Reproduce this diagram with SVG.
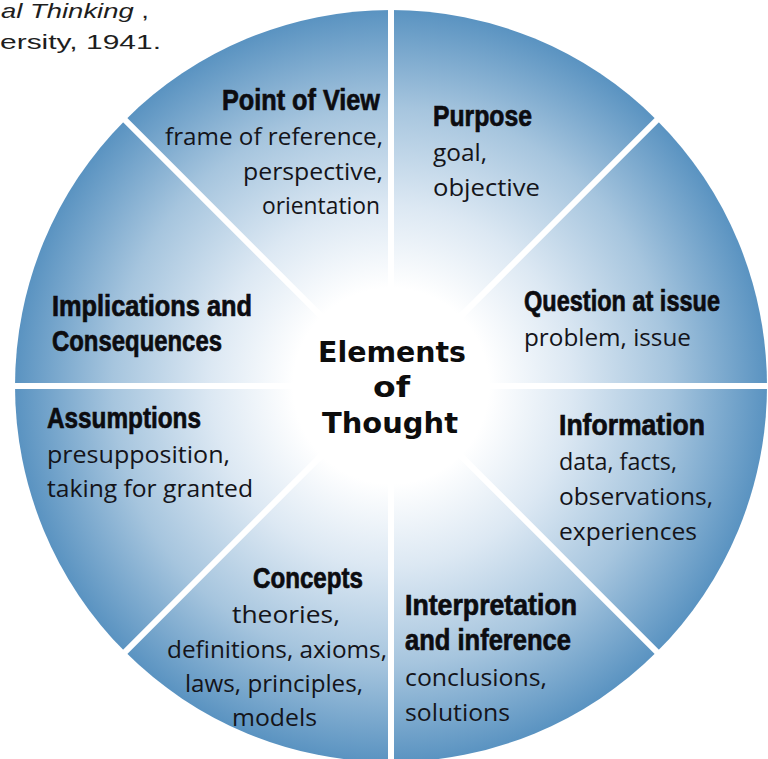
<svg xmlns="http://www.w3.org/2000/svg" width="768" height="759" viewBox="0 0 768 759">
<defs>
<radialGradient id="bg" gradientUnits="userSpaceOnUse" cx="391" cy="386" r="376">
<stop offset="0" stop-color="#ffffff"/>
<stop offset="0.26" stop-color="#ffffff"/>
<stop offset="0.48" stop-color="#dce8f3"/>
<stop offset="0.74" stop-color="#a6c5de"/>
<stop offset="1" stop-color="#5a93c1"/>
</radialGradient>
<style>
.sec { fill: url(#bg); }
.t { font-family: "Liberation Sans", "Open Sans", sans-serif; font-weight: 700; font-size: 30px; fill: #0c0c10; stroke: #0c0c10; stroke-width: 0.7px; }
.s { font-family: "Open Sans", "Liberation Sans", sans-serif; font-size: 24.5px; fill: #14141a; }
.c { font-family: "DejaVu Sans", "Liberation Sans", sans-serif; font-weight: 700; font-size: 28px; fill: #0d0d0d; }
.cap { font-family: "Liberation Sans", "Open Sans", sans-serif; font-size: 21px; fill: #1e1e1e; }
.sep { stroke: #ffffff; stroke-width: 6; fill: none; }
</style>
</defs>
<rect width="768" height="759" fill="#ffffff"/>
<g id="caption">
<text class="cap" x="1" y="18" textLength="148" lengthAdjust="spacingAndGlyphs"><tspan font-style="italic">al Thinking</tspan> ,</text>
<text class="cap" x="0" y="49" textLength="161" lengthAdjust="spacingAndGlyphs">ersity, 1941.</text>
</g>
<g id="point-of-view">
<path class="sec" d="M391,386 L125.13,120.13 A376,376 0 0 1 391,10 Z"/>
<text class="t" transform="matrix(0.8 0 0 1 222 110)" x="0" y="0" textLength="197.5" lengthAdjust="spacingAndGlyphs">Point of View</text>
<text class="s" x="165" y="145" textLength="218" lengthAdjust="spacingAndGlyphs">frame of reference,</text>
<text class="s" x="243" y="180" textLength="140" lengthAdjust="spacingAndGlyphs">perspective,</text>
<text class="s" x="262" y="214" textLength="118" lengthAdjust="spacingAndGlyphs">orientation</text>
</g>
<g id="purpose">
<path class="sec" d="M391,386 L391,10 A376,376 0 0 1 656.87,120.13 Z"/>
<text class="t" transform="matrix(0.8 0 0 1 433 126)" x="0" y="0" textLength="123.75" lengthAdjust="spacingAndGlyphs">Purpose</text>
<text class="s" x="433" y="161" textLength="54" lengthAdjust="spacingAndGlyphs">goal,</text>
<text class="s" x="433" y="196" textLength="107" lengthAdjust="spacingAndGlyphs">objective</text>
</g>
<g id="question-at-issue">
<path class="sec" d="M391,386 L656.87,120.13 A376,376 0 0 1 767,386 Z"/>
<text class="t" transform="matrix(0.8 0 0 1 524 311)" x="0" y="0" textLength="245" lengthAdjust="spacingAndGlyphs">Question at issue</text>
<text class="s" x="524" y="346" textLength="167" lengthAdjust="spacingAndGlyphs">problem, issue</text>
</g>
<g id="information">
<path class="sec" d="M391,386 L767,386 A376,376 0 0 1 656.87,651.87 Z"/>
<text class="t" transform="matrix(0.8 0 0 1 559 435)" x="0" y="0" textLength="182.5" lengthAdjust="spacingAndGlyphs">Information</text>
<text class="s" x="559" y="470" textLength="118" lengthAdjust="spacingAndGlyphs">data, facts,</text>
<text class="s" x="559" y="505" textLength="154" lengthAdjust="spacingAndGlyphs">observations,</text>
<text class="s" x="559" y="540" textLength="138" lengthAdjust="spacingAndGlyphs">experiences</text>
</g>
<g id="interpretation-and-inference">
<path class="sec" d="M391,386 L656.87,651.87 A376,376 0 0 1 391,762 Z"/>
<text class="t" transform="matrix(0.8 0 0 1 405 615)" x="0" y="0" textLength="215" lengthAdjust="spacingAndGlyphs">Interpretation</text>
<text class="t" transform="matrix(0.8 0 0 1 405 650)" x="0" y="0" textLength="207.5" lengthAdjust="spacingAndGlyphs">and inference</text>
<text class="s" x="405" y="686" textLength="142" lengthAdjust="spacingAndGlyphs">conclusions,</text>
<text class="s" x="405" y="721" textLength="105" lengthAdjust="spacingAndGlyphs">solutions</text>
</g>
<g id="concepts">
<path class="sec" d="M391,386 L391,762 A376,376 0 0 1 125.13,651.87 Z"/>
<text class="t" transform="matrix(0.8 0 0 1 253 588)" x="0" y="0" textLength="137.5" lengthAdjust="spacingAndGlyphs">Concepts</text>
<text class="s" x="232" y="623" textLength="108" lengthAdjust="spacingAndGlyphs">theories,</text>
<text class="s" x="167" y="658" textLength="220" lengthAdjust="spacingAndGlyphs">definitions, axioms,</text>
<text class="s" x="185" y="692" textLength="178" lengthAdjust="spacingAndGlyphs">laws, principles,</text>
<text class="s" x="232" y="726" textLength="85" lengthAdjust="spacingAndGlyphs">models</text>
</g>
<g id="assumptions">
<path class="sec" d="M391,386 L125.13,651.87 A376,376 0 0 1 15,386 Z"/>
<text class="t" transform="matrix(0.8 0 0 1 47 428)" x="0" y="0" textLength="192.5" lengthAdjust="spacingAndGlyphs">Assumptions</text>
<text class="s" x="47" y="463" textLength="183" lengthAdjust="spacingAndGlyphs">presupposition,</text>
<text class="s" x="47" y="497" textLength="206" lengthAdjust="spacingAndGlyphs">taking for granted</text>
</g>
<g id="implications-and-consequences">
<path class="sec" d="M391,386 L15,386 A376,376 0 0 1 125.13,120.13 Z"/>
<text class="t" transform="matrix(0.8 0 0 1 52 316)" x="0" y="0" textLength="250" lengthAdjust="spacingAndGlyphs">Implications and</text>
<text class="t" transform="matrix(0.8 0 0 1 52 351)" x="0" y="0" textLength="212.5" lengthAdjust="spacingAndGlyphs">Consequences</text>
</g>
<g id="separators">
<line class="sep" x1="391" y1="386" x2="391" y2="8"/>
<line class="sep" x1="391" y1="386" x2="391" y2="764"/>
<line class="sep" x1="391" y1="386" x2="13" y2="386"/>
<line class="sep" x1="391" y1="386" x2="769" y2="386"/>
<line class="sep" x1="391" y1="386" x2="658.3" y2="118.7"/>
<line class="sep" x1="391" y1="386" x2="658.3" y2="653.3"/>
<line class="sep" x1="391" y1="386" x2="123.7" y2="653.3"/>
<line class="sep" x1="391" y1="386" x2="123.7" y2="118.7"/>
</g>
<g id="elements-of-thought">
<text class="c" x="318" y="362" textLength="148" lengthAdjust="spacingAndGlyphs">Elements</text>
<text class="c" x="373" y="397" textLength="37" lengthAdjust="spacingAndGlyphs">of</text>
<text class="c" x="322" y="433" textLength="136" lengthAdjust="spacingAndGlyphs">Thought</text>
</g>
</svg>
